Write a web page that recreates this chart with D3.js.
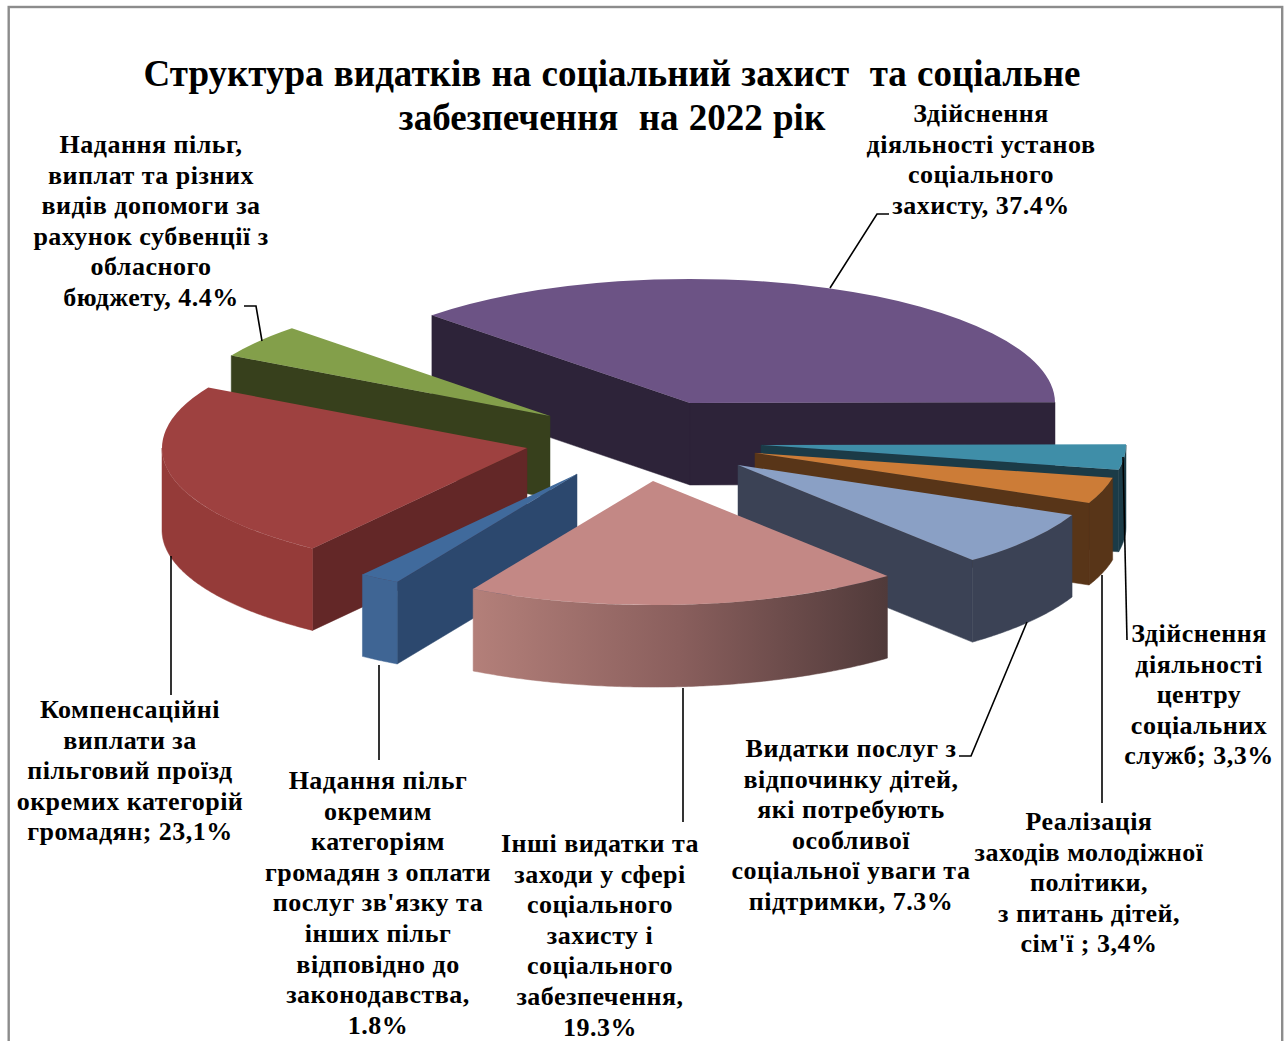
<!DOCTYPE html>
<html>
<head>
<meta charset="utf-8">
<script src="https://cdn.jsdelivr.net/npm/d3@7"></script>
<style>
  html, body { margin: 0; padding: 0; background: #fff; overflow: hidden; }
  text { font-family: "Liberation Serif", serif; font-weight: bold; fill: #000; white-space: pre; }
</style>
</head>
<body>
<div id="chart"></div>
<script>
// data, clockwise from the back left edge of the biggest slice
const values = [37.4, 3.3, 3.4, 7.3, 19.3, 1.8, 23.1, 4.4];

const labels = [
  ["Здійснення", "діяльності установ", "соціального", "захисту, 37.4%"],
  ["Здійснення", "діяльності", "центру", "соціальних", "служб; 3,3%"],
  ["Реалізація", "заходів молодіжної", "політики,", "з питань дітей,", "сім'ї ; 3,4%"],
  ["Видатки послуг з", "відпочинку дітей,", "які потребують", "особливої", "соціальної уваги та", "підтримки, 7.3%"],
  ["Інші видатки та", "заходи у сфері", "соціального", "захисту і", "соціального", "забезпечення,", "19.3%"],
  ["Надання пільг", "окремим", "категоріям", "громадян з оплати", "послуг зв'язку та", "інших пільг", "відповідно до", "законодавства,", "1.8%"],
  ["Компенсаційні", "виплати за", "пільговий проїзд", "окремих категорій", "громадян; 23,1%"],
  ["Надання пільг,", "виплат та різних", "видів допомоги за", "рахунок субвенції з", "обласного", "бюджету, 4.4%"]
];

const titleLines = ["Структура видатків на соціальний захист  та соціальне", "забезпечення  на 2022 рік"];

// colours per slice
const topColors = ["#6c5385", "#3f8ea8", "#cc7c37", "#8aa0c5", "#c38885", "#406a9c", "#9e4140", "#839f4a"];
const sideColors = ["#2d2339", "#1b3b47", "#583518", "#3b4255", "#503a3a", "#2c486e", "#632727", "#37401c"];
const rimColors = ["#2d2339", "#1b3b47", "#583518", "#3b4255", "url(#pinkRim)", "#3f6594", "#953b39", "#37401c"];

// layout
const width = 1288, height = 1041;
const radius = 365, tilt = 0.34, depth = 82;
const startAngle = -Math.PI / 4;
const originX = [690, 761, 755, 738, 653, 577, 527, 550];
const originY = [403, 445, 453, 465, 481, 474, 448, 416];
const drawOrder = [0, 7, 6, 5, 1, 2, 3, 4];
const labelX = [981, 1199, 1089, 851, 600, 378, 130, 151];
const labelY = [122, 642, 830, 757, 852, 789, 718, 153];
const lineStep = 30.6;
const leaders = [
  [[830, 288], [877, 214], [889, 214]],
  [[1123, 457], [1127, 640]],
  [[1102, 575], [1102, 803]],
  [[1027, 622], [971, 756], [959, 756]],
  [[683, 688], [683, 822]],
  [[379, 665], [379, 760]],
  [[171, 556], [171, 695]],
  [[262, 341], [256, 306], [244, 306]]
];

const svg = d3.select("#chart").append("svg")
  .attr("width", width)
  .attr("height", height)
  .style("display", "block");

// frame, runs off the bottom of the page
svg.append("rect")
  .attr("x", 8.7)
  .attr("y", 7)
  .attr("width", 1273.5)
  .attr("height", 1100)
  .attr("fill", "#fff")
  .attr("stroke", "#8c8c8c")
  .attr("stroke-width", 2.4);

let grad = svg.append("defs").append("linearGradient")
  .attr("id", "pinkRim")
  .attr("gradientUnits", "userSpaceOnUse")
  .attr("x1", 470).attr("x2", 887).attr("y1", 0).attr("y2", 0);
grad.append("stop").attr("offset", "0%").attr("stop-color", "#b4807a");
grad.append("stop").attr("offset", "50%").attr("stop-color", "#8a5f5d");
grad.append("stop").attr("offset", "100%").attr("stop-color", "#503a3a");

// values are percents, they add up to a bit over 100 in the source
let pie = d3.pie().sort(null)
  .startAngle(startAngle)
  .endAngle(startAngle + 2 * Math.PI * d3.sum(values) / 100);
let arcs = pie(values);

let topArc = d3.arc().innerRadius(0).outerRadius(radius);
let poly = d3.line();

function drawSlice(i) {
  let d = arcs[i],
    ox = originX[i],
    oy = originY[i],
    px = (a) => ox + radius * Math.sin(a),
    py = (a) => oy - radius * tilt * Math.cos(a);

  let g = svg.append("g").attr("class", "slice");

  // flat side from the centre to the rim, only if it faces the viewer
  function sideWall(a) {
    g.append("path")
      .attr("d", poly([[ox, oy], [px(a), py(a)], [px(a), py(a) + depth], [ox, oy + depth]]) + "Z")
      .attr("fill", sideColors[i])
      .attr("stroke", sideColors[i])
      .attr("stroke-width", 0.5);
  }
  if (Math.cos(d.startAngle - Math.PI / 2) < 0) sideWall(d.startAngle);
  if (Math.cos(d.endAngle + Math.PI / 2) < 0) sideWall(d.endAngle);

  // curved rim, front half only
  let a0 = Math.max(d.startAngle, Math.PI / 2),
    a1 = Math.min(d.endAngle, 3 * Math.PI / 2);
  if (a1 > a0) {
    let angles = d3.range(a0, a1, 0.01).concat([a1]);
    g.append("path")
      .attr("d", d3.area().x(px).y0(py).y1((a) => py(a) + depth)(angles))
      .attr("fill", rimColors[i])
      .attr("stroke", rimColors[i])
      .attr("stroke-width", 0.5);
  }

  g.append("path")
    .attr("transform", "translate(" + ox + "," + oy + ") scale(1," + tilt + ")")
    .attr("d", topArc(d))
    .attr("fill", topColors[i]);
}

drawOrder.forEach(drawSlice);

// leader lines
svg.selectAll(".leader")
  .data(leaders)
  .enter().append("path")
  .attr("class", "leader")
  .attr("d", (d) => poly(d))
  .attr("fill", "none")
  .attr("stroke", "#000")
  .attr("stroke-width", 1.6);

// data labels
labels.forEach(function(lines, i) {
  svg.append("g").selectAll("text")
    .data(lines)
    .enter().append("text")
    .attr("x", labelX[i])
    .attr("y", (d, j) => labelY[i] + j * lineStep)
    .attr("text-anchor", "middle")
    .attr("font-size", 26)
    .attr("letter-spacing", 0.5)
    .text((d) => d);
});

// title
svg.selectAll(".title")
  .data(titleLines)
  .enter().append("text")
  .attr("class", "title")
  .attr("x", 612)
  .attr("y", (d, i) => 86 + i * 44)
  .attr("text-anchor", "middle")
  .attr("font-size", 37)
  .attr("word-spacing", 1)
  .text((d) => d);
</script>
</body>
</html>
